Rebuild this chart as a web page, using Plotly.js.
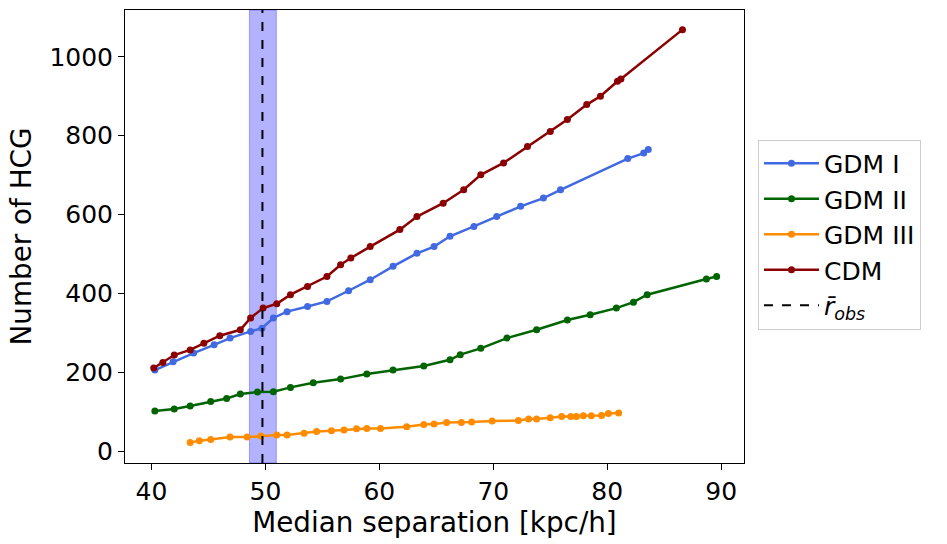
<!DOCTYPE html>
<html>
<head>
<meta charset="utf-8">
<script src="https://cdn.plot.ly/plotly-3.0.1.min.js"></script>
<style>
  html, body { margin: 0; padding: 0; background: #fff; }
  #plot { width: 947px; height: 544px; }
</style>
</head>
<body>
<div id="plot"></div>
<script>
// --- data ---
const cdmX = [40.2, 41.0, 42.0, 43.4, 44.6, 46.0, 47.8, 48.7, 49.8, 51.0, 52.2, 53.7, 55.4, 56.6, 57.5, 59.2, 61.8, 63.3, 65.6, 67.4, 68.9, 70.9, 73.0, 75.0, 76.5, 78.2, 79.4, 80.9, 81.2, 86.6];
const cdmY = [211, 225, 244, 257, 274, 293, 308, 338, 363, 374, 397, 418, 443, 473, 490, 519, 562, 595, 629, 663, 701, 731, 773, 811, 841, 879, 900, 938, 944, 1069];

const gdm1X = [40.3, 41.9, 43.7, 45.5, 46.9, 48.7, 49.7, 50.7, 51.9, 53.7, 55.4, 57.3, 59.2, 61.2, 63.3, 64.8, 66.2, 68.3, 70.3, 72.4, 74.4, 75.9, 81.8, 83.2, 83.6];
const gdm1Y = [206, 227, 249, 270, 287, 304, 312, 338, 354, 367, 380, 407, 435, 469, 502, 519, 545, 570, 595, 621, 642, 663, 742, 756, 765];

const gdm2X = [40.3, 42.0, 43.4, 45.2, 46.6, 47.8, 49.3, 50.7, 52.2, 54.2, 56.6, 58.9, 61.2, 63.9, 66.2, 67.1, 68.9, 71.2, 73.8, 76.5, 78.5, 80.8, 82.3, 83.5, 88.7, 89.6];
const gdm2Y = [102, 107, 115, 126, 134, 145, 150, 151, 162, 174, 183, 196, 206, 216, 232, 245, 261, 287, 308, 333, 346, 363, 378, 397, 437, 443];

const gdm3X = [43.4, 44.2, 45.2, 46.9, 48.4, 49.6, 51.0, 51.9, 53.4, 54.5, 55.8, 56.9, 58.0, 58.9, 60.1, 62.4, 63.9, 64.8, 65.9, 67.2, 68.1, 69.9, 72.2, 73.1, 73.8, 75.0, 76.0, 76.8, 77.3, 77.9, 78.6, 79.5, 80.1, 81.0];
const gdm3Y = [22, 27, 30, 36, 36, 39, 41, 41, 46, 50, 52, 54, 57, 58, 58, 62, 68, 69, 73, 73, 74, 77, 78, 82, 82, 85, 88, 88, 88, 90, 90, 91, 96, 97];

// observed mean separation and its band
const rObs = 49.74;
const rObsBand = [48.6, 50.96];

const xRange = [37.68, 92.0];
const yRange = [-29.7, 1118.8];

// --- traces ---
function series(name, x, y, color) {
    return {
        x: x, y: y, name: name,
        type: 'scatter', mode: 'lines+markers',
        line: { color: color, width: 2.5 },
        marker: { color: color, size: 7 }
    };
}

const traces = [
    series('GDM I', gdm1X, gdm1Y, 'royalblue'),
    series('GDM II', gdm2X, gdm2Y, 'darkgreen'),
    series('GDM III', gdm3X, gdm3Y, 'darkorange'),
    series('CDM', cdmX, cdmY, 'darkred'),
    {
        x: [rObs, rObs], y: yRange,
        name: '<i>r\u0304</i><sub><i>obs</i></sub>',
        type: 'scatter', mode: 'lines',
        line: { color: 'black', width: 2, dash: 'dash' }
    }
];

const axisStyle = {
    showline: true, mirror: true, linecolor: 'black', linewidth: 1,
    ticks: 'outside', ticklen: 6, tickwidth: 1, tickcolor: 'black',
    showgrid: false, zeroline: false,
    tickfont: { size: 25, color: 'black' }
};

const layout = {
    width: 947, height: 544,
    margin: { l: 125, r: 203, t: 10, b: 81 },
    paper_bgcolor: 'white', plot_bgcolor: 'white',
    font: { family: 'DejaVu Sans, sans-serif', color: 'black' },
    xaxis: Object.assign({}, axisStyle, {
        range: xRange, tickvals: [40, 50, 60, 70, 80, 90],
        title: { text: 'Median separation [kpc/h]', font: { size: 27.8 }, standoff: 1 }
    }),
    yaxis: Object.assign({}, axisStyle, {
        range: yRange, tickvals: [0, 200, 400, 600, 800, 1000],
        title: { text: 'Number of HCG', font: { size: 27.8 }, standoff: 9 }
    }),
    shapes: [{
        type: 'rect', xref: 'x', yref: 'paper',
        x0: rObsBand[0], x1: rObsBand[1], y0: 0, y1: 1,
        fillcolor: 'rgba(0,0,255,0.3)',
        line: { color: 'rgba(0,0,255,0.3)', width: 1 },
        layer: 'below'
    }],
    legend: {
        x: 1.0226, y: 0.714, xanchor: 'left', yanchor: 'top',
        bgcolor: 'white', bordercolor: '#cccccc', borderwidth: 1,
        font: { size: 25, color: 'black' },
        itemwidth: 55,
        tracegroupgap: 0
    },
    showlegend: true
};

Plotly.newPlot('plot', traces, layout, { displayModeBar: false, staticPlot: true });
</script>
</body>
</html>
